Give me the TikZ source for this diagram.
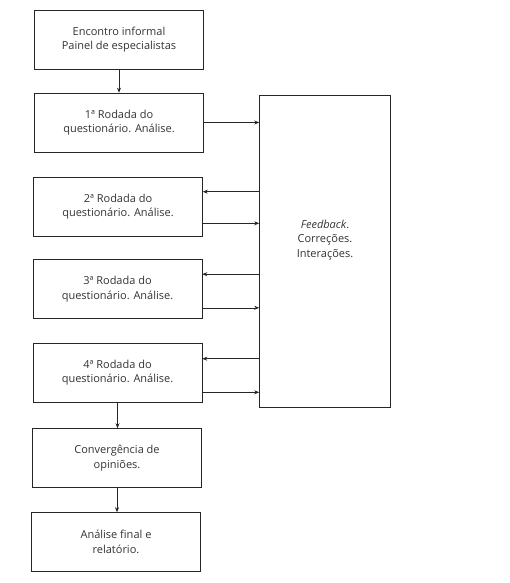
\documentclass[tikz,border=0pt]{standalone}
\usepackage{fontspec}
\setmainfont{Open Sans}
\usepackage{tikz}
\usetikzlibrary{arrows.meta,positioning,calc}

\begin{document}
\begin{tikzpicture}[x=1pt,y=-1pt,
        block/.style={draw=black!85, line width=0.6pt, align=center, minimum width=169pt, minimum height=59pt, inner sep=0pt, text=black!80, font=\fontsize{11}{14.5}\selectfont},
        panel/.style={draw=black!85, line width=0.6pt, align=center, minimum width=131pt, minimum height=312pt, inner sep=0pt, text=black!80, font=\fontsize{11}{14.5}\selectfont},
        arrow/.style={-{Stealth[length=5pt,width=4pt]}, line width=0.6pt, draw=black!85}
    ]
        \useasboundingbox (0,0) rectangle (509,583);

        \node[block] (encontro) at (119,39.5) {Encontro informal\\Painel de especialistas};
        \node[block] (rodada1) at (119,122.5) {1ª Rodada do\\questionário. Análise.};
        \node[block] (rodada2) at (118,206.5) {2ª Rodada do\\questionário. Análise.};
        \node[block] (rodada3) at (117.5,289) {3ª Rodada do\\questionário. Análise.};
        \node[block] (rodada4) at (117.5,372.5) {4ª Rodada do\\questionário. Análise.};
        \node[block] (convergencia) at (117,458) {Convergência de\\opiniões.};
        \node[block] (final) at (116,542) {Análise final e\\relatório.};

        \node[panel] (feedback) at (325,251) {\textit{Feedback}.\\Correções.\\Interações.\\[10pt]};

        \draw[arrow] (encontro.south) -- (encontro.south |- rodada1.north);
        \draw[arrow] (rodada4.south) -- (rodada4.south |- convergencia.north);
        \draw[arrow] (convergencia.south) -- (convergencia.south |- final.north);

        \draw[arrow] (rodada1.east) -- (rodada1.east -| feedback.west);

        \coordinate (volta2) at ([yshift=-15pt]rodada2.north east);
        \coordinate (ida2) at ([yshift=13pt]rodada2.south east);
        \draw[arrow] (volta2 -| feedback.west) -- (volta2);
        \draw[arrow] (ida2) -- (ida2 -| feedback.west);

        \coordinate (volta3) at ([yshift=-15pt]rodada3.north east);
        \coordinate (ida3) at ([yshift=11pt]rodada3.south east);
        \draw[arrow] (volta3 -| feedback.west) -- (volta3);
        \draw[arrow] (ida3) -- (ida3 -| feedback.west);

        \coordinate (volta4) at ([yshift=-16pt]rodada4.north east);
        \coordinate (ida4) at ([yshift=10pt]rodada4.south east);
        \draw[arrow] (volta4 -| feedback.west) -- (volta4);
        \draw[arrow] (ida4) -- (ida4 -| feedback.west);
    \end{tikzpicture}
\end{document}
